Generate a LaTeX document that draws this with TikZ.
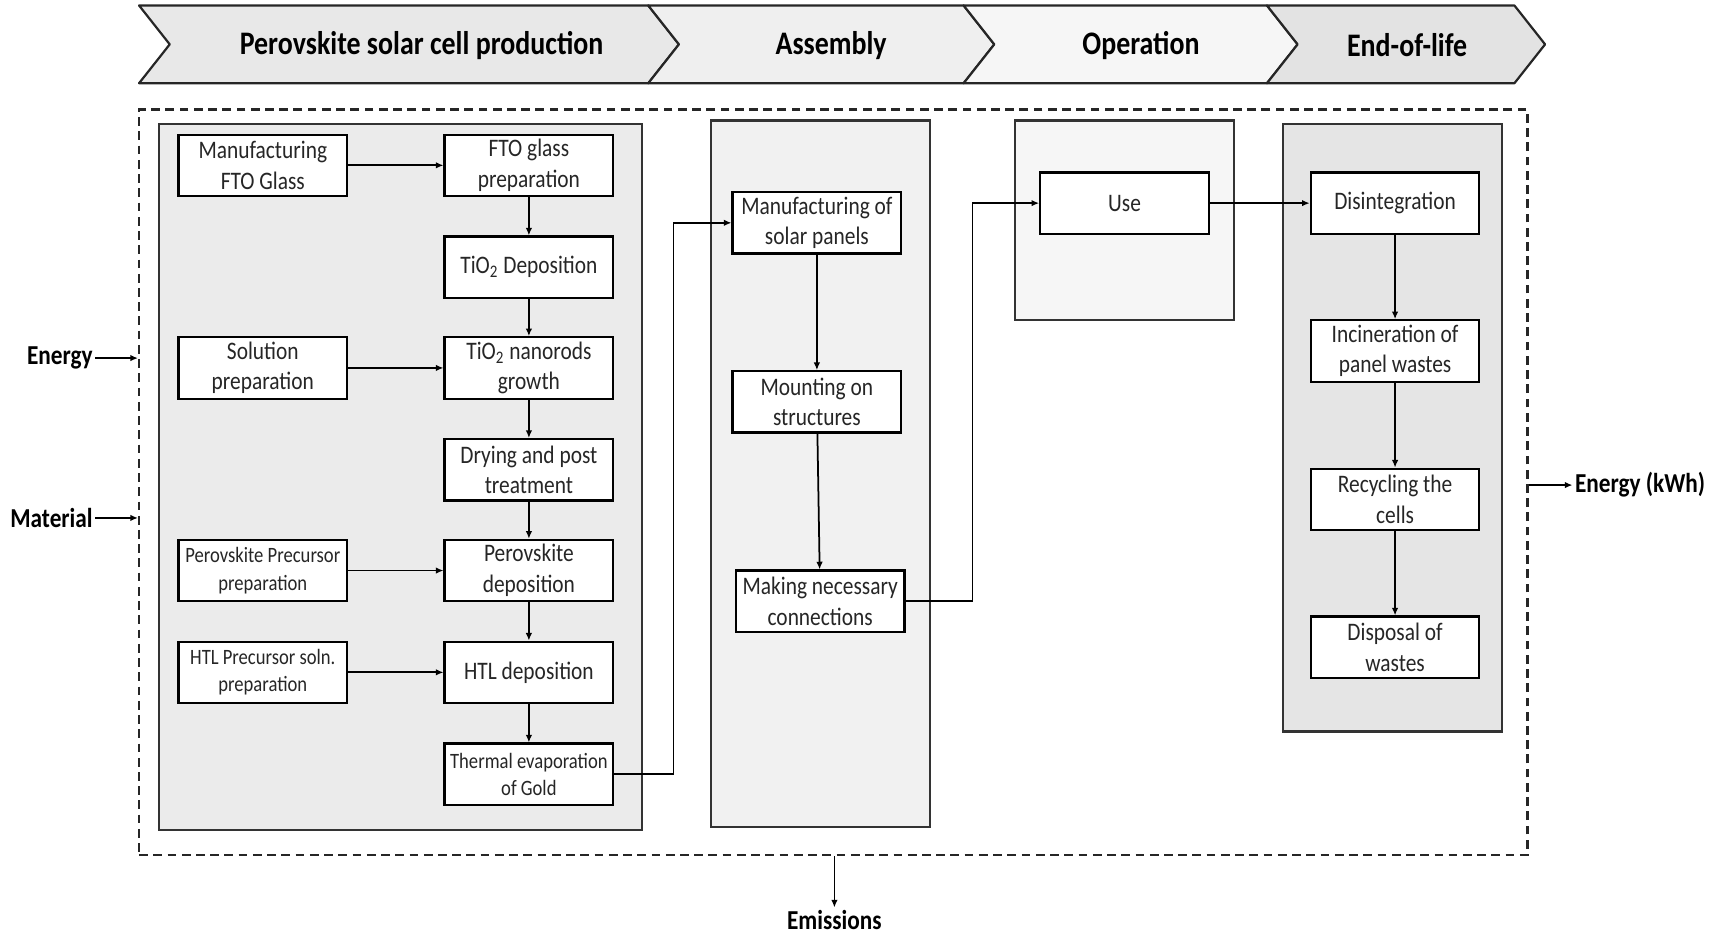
\documentclass[tikz,border=0pt]{standalone}
\usepackage{fontspec}
\setmainfont{Carlito}[FakeStretch=0.85]
\usepackage{xcolor}
\usetikzlibrary{arrows.meta}
\definecolor{ink}{HTML}{262626}
\definecolor{hdA}{HTML}{E8E8E8}
\definecolor{hdB}{HTML}{EFEFEF}
\definecolor{hdC}{HTML}{F6F6F6}
\definecolor{hdD}{HTML}{E3E3E3}
\definecolor{pnA}{HTML}{EBEBEB}
\definecolor{pnB}{HTML}{F1F1F1}
\definecolor{pnC}{HTML}{F6F6F6}
\definecolor{pnD}{HTML}{E5E5E5}
\tikzset{
  box/.style={draw=black, line width=1pt, fill=white, minimum width=77pt, minimum height=28pt,
    inner sep=0pt, align=center, text=ink, font=\fontsize{11.5}{14}\selectfont},
  boxs/.style={box, font=\fontsize{10}{12.5}\selectfont},
  panel/.style={draw=black!80, line width=1pt},
  chev/.style={draw=black!85, line width=1pt, line join=round},
  head/.style={font=\bfseries\fontsize{15}{18}\selectfont},
  io/.style={inner sep=1pt, font=\bfseries\fontsize{12.5}{15}\selectfont},
  arr/.style={draw=black, line width=0.8pt, -{Latex[length=3.5pt,width=3pt]}},
  sysbox/.style={draw=black!85, line width=1pt, dash pattern=on 4pt off 2.5pt},
}

\begin{document}
\begin{tikzpicture}[x=0.5pt, y=-0.5pt]
  \useasboundingbox (0,0) rectangle (1568,852);
  % stage headers
  \foreach \xa/\xb/\col in {127/592/hdA, 592/880/hdB, 880/1157/hdC, 1157/1383/hdD}
    \filldraw[chev, fill=\col] (\xa,5) -- (\xb,5) -- (\xb+28,40.5) -- (\xb,76) -- (\xa,76) -- (\xa+28,40.5) -- cycle;
  \node[head] (hprod) at (385,41.5) {Perovskite solar cell production};
  \node[head] (hasm) at (759,41.5) {Assembly};
  \node[head] (hop) at (1042,41.5) {Operation};
  \node[head] (heol) at (1285,41.5) {End-of-life};

  % system boundary and stage panels
  \node[sysbox, minimum width=634pt, minimum height=340.5pt] (sys) at (761,440.5) {};
  \filldraw[panel, fill=pnA] (145,113) rectangle (586,758);
  \filldraw[panel, fill=pnB] (649,110) rectangle (849,755);
  \filldraw[panel, fill=pnC] (927,110) rectangle (1127,292);
  \filldraw[panel, fill=pnD] (1172,113) rectangle (1372,668);

  % production
  \node[box] (mfto) at (240,151) {Manufacturing\\FTO Glass};
  \node[box] (fto) at (483,151) {FTO glass\\preparation};
  \node[box] (tdep) at (483,244) {TiO\textsubscript{2} Deposition};
  \node[box] (sol) at (240,336) {Solution\\preparation};
  \node[box] (nano) at (483,336) {TiO\textsubscript{2} nanorods\\growth};
  \node[box] (dry) at (483,429) {Drying and post\\treatment};
  \node[boxs] (pprec) at (240,521) {Perovskite Precursor\\preparation};
  \node[box] (pdep) at (483,521) {Perovskite\\deposition};
  \node[boxs] (hprec) at (240,614) {HTL Precursor soln.\\preparation};
  \node[box] (hdep) at (483,614) {HTL deposition};
  \node[boxs] (gold) at (483,707) {Thermal evaporation\\of Gold};

  % assembly, operation, end-of-life
  \node[box] (panels) at (746,203.5) {Manufacturing of\\solar panels};
  \node[box] (mount) at (746,367) {Mounting on\\structures};
  \node[box] (conn) at (749,549) {Making necessary\\connections};
  \node[box] (use) at (1027,185.5) {Use};
  \node[box] (dis) at (1274,185.5) {Disintegration};
  \node[box] (inc) at (1274,320.5) {Incineration of\\panel wastes};
  \node[box] (rec) at (1274,456) {Recycling the\\cells};
  \node[box] (disp) at (1274,591) {Disposal of\\wastes};

  \foreach \a/\b in {mfto/fto, sol/nano, pprec/pdep, hprec/hdep, fto/tdep, tdep/nano, nano/dry,
      dry/pdep, pdep/hdep, hdep/gold, panels/mount, mount/conn, use/dis, dis/inc, inc/rec, rec/disp}
    \draw[arr] (\a) -- (\b);
  \draw[arr] (gold.east) -- ++(27pt,0) |- (panels.west);
  \draw[arr] (conn.east) -- ++(30.5pt,0) |- (use.west);

  % inputs and outputs
  \node[io, anchor=east] (energy) at (87,327) {Energy};
  \node[io, anchor=east] (mat) at (87,473) {Material};
  \node[io, anchor=west] (ekwh) at (1436,443) {Energy (kWh)};
  \node[io] (emis) at (762,840) {Emissions};
  \draw[arr] (energy.east) -- (energy.east -| sys.west);
  \draw[arr] (mat.east) -- (mat.east -| sys.west);
  \draw[arr] (ekwh.west -| sys.east) -- (ekwh.west);
  \draw[arr] (sys.south -| emis) -- (emis.north);
\end{tikzpicture}
\end{document}
